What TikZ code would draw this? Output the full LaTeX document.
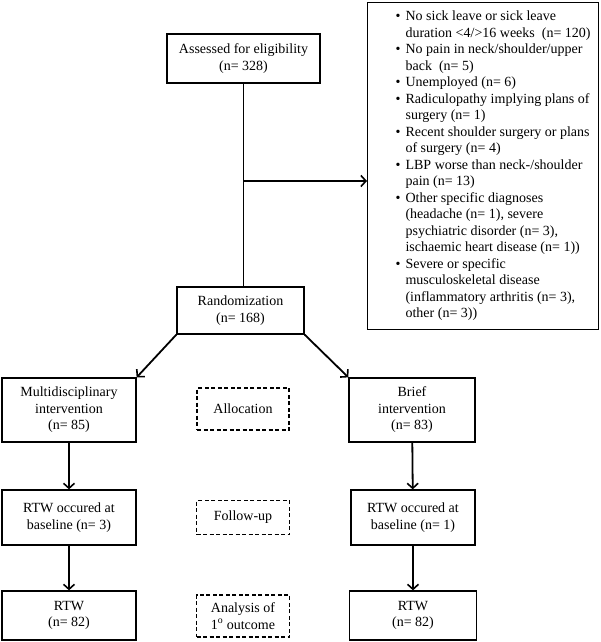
\documentclass[tikz,border=0pt]{standalone}
\usepackage{fontspec}
\setmainfont{Liberation Serif}
\usepackage{tikz}
\usetikzlibrary{arrows.meta}

\begin{document}
\begin{tikzpicture}[x=1pt,y=1pt,
	box/.style={draw,line width=1.3pt,align=center,inner sep=2pt,font=\fontsize{14}{16.5}\selectfont},
	dbox/.style={box,dash pattern=on 4pt off 2.5pt,line width=1.4pt},
	arr/.style={line width=1.8pt,-{Straight Barb[length=5pt,width=11pt,line width=1.6pt]}}]
	\useasboundingbox (0,0) rectangle (601,-642);

	\node[box,minimum width=153,minimum height=49] (assess) at (243.5,-58.5) {Assessed for eligibility\\(n= 328)};
	\node[box,minimum width=231,minimum height=327,anchor=north west,inner sep=0pt] (excl) at (367,-2) {%
		\hspace*{20pt}\begin{tabular}{@{}c@{\hspace{5pt}}l@{}}
		\textbullet & No sick leave or sick leave\\
		& duration <4/>16 weeks~~(n= 120)\\
		\textbullet & No pain in neck/shoulder/upper\\
		& back~~(n= 5)\\
		\textbullet & Unemployed (n= 6)\\
		\textbullet & Radiculopathy implying plans of\\
		& surgery (n= 1)\\
		\textbullet & Recent shoulder surgery or plans\\
		& of surgery (n= 4)\\
		\textbullet & LBP worse than neck-/shoulder\\
		& pain (n= 13)\\
		\textbullet & Other specific diagnoses\\
		& (headache (n= 1), severe\\
		& psychiatric disorder (n= 3),\\
		& ischaemic heart disease (n= 1))\\
		\textbullet & Severe or specific\\
		& musculoskeletal disease\\
		& (inflammatory arthritis (n= 3),\\
		& other (n= 3))
		\end{tabular}};
	\node[box,minimum width=127,minimum height=47] (random) at (240.5,-310.5) {Randomization\\(n= 168)};

	\node[box,minimum width=134,minimum height=64] (multi) at (69,-410) {Multidisciplinary\\intervention\\(n= 85)};
	\node[dbox,minimum width=92,minimum height=42] (alloc) at (243,-409) {Allocation};
	\node[box,minimum width=126,minimum height=64] (brief) at (412,-410) {Brief\\intervention\\(n= 83)};

	\node[box,minimum width=134,minimum height=55] (baseL) at (69,-517.5) {RTW occured at\\baseline (n= 3)};
	\node[dbox,minimum width=93,minimum height=34] (follow) at (243,-517.5) {Follow-up};
	\node[box,minimum width=124,minimum height=55] (baseR) at (413,-517.5) {RTW occured at\\baseline (n= 1)};

	\node[box,minimum width=134,minimum height=49] (rtwL) at (69,-615.5) {RTW\\(n= 82)};
	\node[dbox,minimum width=93,minimum height=42] (analysis) at (243,-616) {Analysis of\\1\textsuperscript{o} outcome};
	\node[box,minimum width=127,minimum height=49] (rtwR) at (413,-615.5) {RTW\\(n= 82)};

	\coordinate (split) at (assess.south |- 0,-181);
	\draw[line width=1.8pt] (assess.south) -- (assess.south |- random.north);
	\draw[arr] (split) -- (split -| excl.west);
	\draw[arr] (random.south west) -- (multi.north east);
	\draw[arr] (random.south east) -- (brief.north west);
	\draw[arr] (multi) -- (baseL);
	\draw[arr] (brief) -- (baseR);
	\draw[arr] (baseL) -- (rtwL);
	\draw[arr] (baseR) -- (rtwR);
\end{tikzpicture}
\end{document}
